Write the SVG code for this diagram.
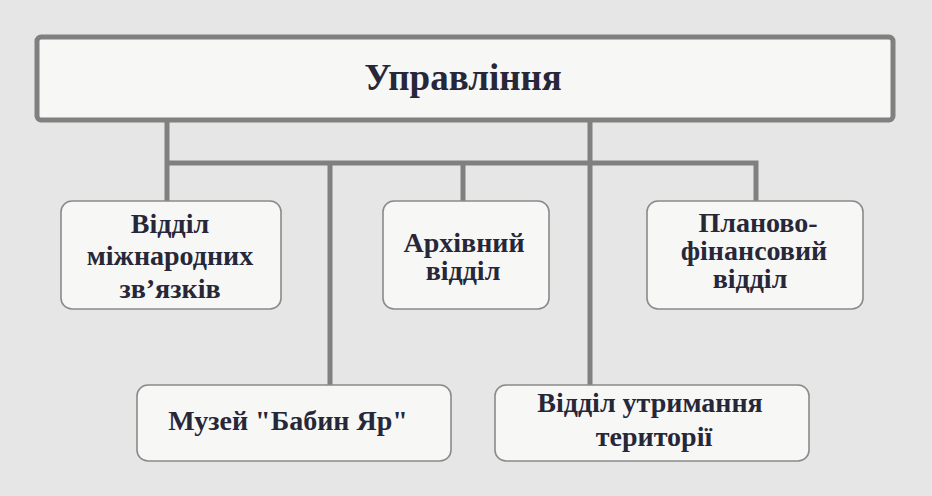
<svg xmlns="http://www.w3.org/2000/svg" width="932" height="496" viewBox="0 0 932 496">
<style>
.nt{font-family:'Times New Roman','Liberation Serif',serif;font-weight:bold;fill:#27273a}
</style>
<rect x="0" y="0" width="932" height="496" fill="#e6e6e6"/>
<g id="connectors" fill="none" stroke="#808080" stroke-width="5">
<path d="M167,120 V201 M167,163 H756 V201 M463,163 V201 M330,163 V385 M590,120 V385"/>
</g>
<g id="upravlinnia">
<rect x="37" y="37" width="856" height="83" rx="4" fill="#f7f7f5" stroke="#808080" stroke-width="5"/>
<text class="nt" x="463" y="90" font-family="Times New Roman, Liberation Serif, serif" text-anchor="middle" font-size="37">Управління</text>
</g>
<g id="viddil-mizhnarodnykh">
<rect x="61" y="201" width="220" height="108" rx="11" fill="#f7f7f5" stroke="#8a8a8a" stroke-width="1.6"/>
<text class="nt" x="170" y="233" font-family="Times New Roman, Liberation Serif, serif" text-anchor="middle" font-size="28">Відділ</text>
<text class="nt" x="170" y="265" font-family="Times New Roman, Liberation Serif, serif" text-anchor="middle" font-size="28">міжнародних</text>
<text class="nt" x="170" y="298" font-family="Times New Roman, Liberation Serif, serif" text-anchor="middle" font-size="28">зв’язків</text>
</g>
<g id="arkhivnyi">
<rect x="383" y="201" width="166" height="108" rx="11" fill="#f7f7f5" stroke="#8a8a8a" stroke-width="1.6"/>
<text class="nt" x="464" y="252" font-family="Times New Roman, Liberation Serif, serif" text-anchor="middle" font-size="28">Архівний</text>
<text class="nt" x="463" y="280" font-family="Times New Roman, Liberation Serif, serif" text-anchor="middle" font-size="28">відділ</text>
</g>
<g id="planovo">
<rect x="647" y="201" width="216" height="108" rx="11" fill="#f7f7f5" stroke="#8a8a8a" stroke-width="1.6"/>
<text class="nt" x="758" y="232" font-family="Times New Roman, Liberation Serif, serif" text-anchor="middle" font-size="28">Планово-</text>
<text class="nt" x="754" y="260" font-family="Times New Roman, Liberation Serif, serif" text-anchor="middle" font-size="28">фінансовий</text>
<text class="nt" x="750" y="288" font-family="Times New Roman, Liberation Serif, serif" text-anchor="middle" font-size="28">відділ</text>
</g>
<g id="muzei">
<rect x="137" y="385" width="314" height="76" rx="11" fill="#f7f7f5" stroke="#8a8a8a" stroke-width="1.6"/>
<text class="nt" x="288" y="430" font-family="Times New Roman, Liberation Serif, serif" text-anchor="middle" font-size="28">Музей "Бабин Яр"</text>
</g>
<g id="terytoriia">
<rect x="495" y="385" width="314" height="76" rx="11" fill="#f7f7f5" stroke="#8a8a8a" stroke-width="1.6"/>
<text class="nt" x="650" y="412" font-family="Times New Roman, Liberation Serif, serif" text-anchor="middle" font-size="28">Відділ утримання</text>
<text class="nt" x="654" y="446" font-family="Times New Roman, Liberation Serif, serif" text-anchor="middle" font-size="28">території</text>
</g>
</svg>
